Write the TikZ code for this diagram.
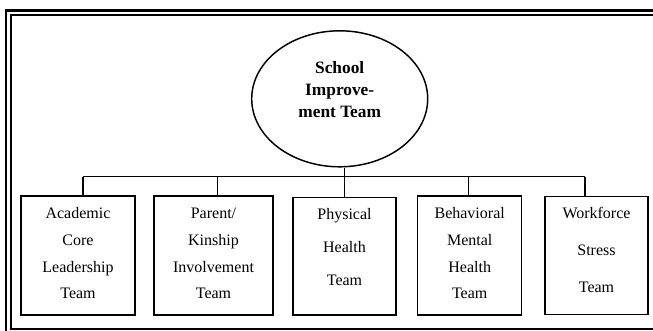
\documentclass[tikz,border=0pt]{standalone}
\usepackage{fontspec}
\setmainfont{Liberation Serif}
\usetikzlibrary{shapes.geometric, positioning, calc}

\begin{document}
\begin{tikzpicture}[x=0.75pt, y=-0.75pt, line width=1.1pt,
    teambox/.style={draw, rectangle, inner sep=0pt, align=center,
        font=\fontsize{12}{20}\selectfont, text height=77.2pt, text depth=12pt}]
    \clip (0,0) rectangle (653,330);
    \useasboundingbox (0,0) rectangle (653,330);

    % Page frame (double rule)
    \draw[line width=1.6pt] (6,10.5) rectangle (700,400);
    \draw[line width=1pt] (11,15) rectangle (700,329);

    % Top node
    \node[draw, ellipse, inner sep=0pt, minimum width=132pt, minimum height=102pt,
        align=center, font=\bfseries\fontsize{13}{16.3}\selectfont,
        text height=40pt, text depth=12.7pt] (sit) at (339.7, 98.8) {School\\Improve-\\ment Team};

    % Team nodes
    \node[teambox, minimum width=85.5pt] (b1) at (78, 255.5) {Academic\\Core\\Leadership\\Team};
    \node[teambox, minimum width=89.2pt] (b2) at (213.5, 255.5) {Parent/\\Kinship\\Involvement\\Team};
    \node[teambox, minimum width=77.2pt, text height=66pt, text depth=22pt] (b3) at (344.5, 256.3)
        {Physical\\[4.8pt]Health\\[4.8pt]Team};
    \node[teambox, minimum width=78pt] (b4) at (469.7, 255.5) {Behavioral\\Mental\\Health\\Team};
    \node[teambox, minimum width=77.2pt, text height=72.2pt, text depth=16.3pt] (b5) at (596.5, 255.5)
        {Workforce\\[8pt]Stress\\[8pt]Team};

    % Connectors
    \coordinate (bus1) at (83, 176.5);
    \coordinate (bus2) at (217.7, 176.5);
    \coordinate (bus4) at (468.3, 176.5);
    \coordinate (bus5) at (585, 176.5);
    \draw (bus1) -- (bus5);
    \draw (b3.north) -- (b3.north |- sit.south);
    \foreach \i in {1,2,4,5}
        \draw (bus\i) -- (bus\i |- b\i.north);
\end{tikzpicture}
\end{document}
